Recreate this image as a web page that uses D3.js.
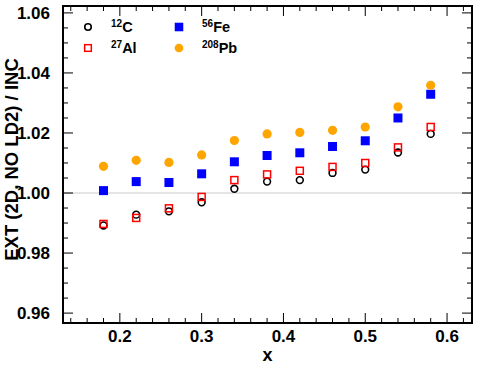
<!DOCTYPE html>
<html>
<head>
<meta charset="utf-8">
<script src="https://cdn.jsdelivr.net/npm/d3@7"></script>
<style>
  body { margin: 0; background: #fff; }
  text { font-family: "Liberation Sans", Arial, sans-serif; font-weight: bold; }
</style>
</head>
<body>
<div id="chart"></div>
<script>
// x bins
const xVals = [0.18, 0.22, 0.26, 0.30, 0.34, 0.38, 0.42, 0.46, 0.50, 0.54, 0.58];
// ratios per nucleus
const c12  = [0.9892, 0.9928, 0.9939, 0.9969, 1.0014, 1.0038, 1.0043, 1.0067, 1.0078, 1.0135, 1.0197];
const al27 = [0.9897, 0.9917, 0.9949, 0.9987, 1.0043, 1.0062, 1.0074, 1.0087, 1.0100, 1.0152, 1.0220];
const fe56 = [1.0008, 1.0038, 1.0035, 1.0064, 1.0104, 1.0125, 1.0134, 1.0155, 1.0174, 1.0250, 1.0329];
const pb208 = [1.0089, 1.0109, 1.0102, 1.0127, 1.0175, 1.0197, 1.0202, 1.0209, 1.0220, 1.0287, 1.0359];

const xTicks = [0.2, 0.3, 0.4, 0.5, 0.6];
const yTicks = [0.96, 0.98, 1.00, 1.02, 1.04, 1.06];

const W = 479, H = 371;
const margin = { top: 6, right: 7, bottom: 48, left: 63 };
const w = W - margin.left - margin.right;
const h = H - margin.top - margin.bottom;

const x = d3.scaleLinear().domain([0.1305, 0.6305]).range([0, w]);
const y = d3.scaleLinear().domain([0.9567, 1.0623]).range([h, 0]);

const svg = d3.select("#chart").append("svg")
    .attr("width", W)
    .attr("height", H);
const g = svg.append("g")
    .attr("transform", `translate(${margin.left},${margin.top})`);

// reference line at 1
g.append("line")
    .attr("x1", 0).attr("x2", w)
    .attr("y1", y(1)).attr("y2", y(1))
    .attr("stroke", "#dcdcdc")
    .attr("stroke-width", 1.5);

// ticks on all four sides, pointing in
const xMinor = d3.range(0.14, 0.625, 0.02);
const yMinor = d3.range(0.96, 1.0626, 0.005);
const tickG = g.append("g").attr("stroke", "#000").attr("stroke-width", 1);
xMinor.forEach(v => {
  const major = xTicks.some(t => Math.abs(t - v) < 1e-6);
  const len = major ? 10 : 5;
  tickG.append("line").attr("x1", x(v)).attr("x2", x(v)).attr("y1", h).attr("y2", h - len);
  tickG.append("line").attr("x1", x(v)).attr("x2", x(v)).attr("y1", 0).attr("y2", len);
});
yMinor.forEach(v => {
  const major = yTicks.some(t => Math.abs(t - v) < 1e-6);
  const len = major ? 10 : 5;
  tickG.append("line").attr("y1", y(v)).attr("y2", y(v)).attr("x1", 0).attr("x2", len);
  tickG.append("line").attr("y1", y(v)).attr("y2", y(v)).attr("x1", w).attr("x2", w - len);
});

// tick labels
g.selectAll(".xl").data(xTicks).enter().append("text")
    .attr("x", d => x(d))
    .attr("y", h + 19)
    .attr("text-anchor", "middle")
    .style("font-size", "17px")
    .text(d => d3.format(".1f")(d));
g.selectAll(".yl").data(yTicks).enter().append("text")
    .attr("x", -13)
    .attr("y", d => y(d))
    .attr("dy", "0.36em")
    .attr("text-anchor", "end")
    .style("font-size", "17px")
    .text(d => d3.format(".2f")(d));

// axis titles
g.append("text")
    .attr("x", w / 2)
    .attr("y", h + 38)
    .attr("text-anchor", "middle")
    .style("font-size", "18px")
    .text("x");
svg.append("text")
    .attr("transform", `translate(17.5,${margin.top + h / 2 - 5}) rotate(-90)`)
    .attr("text-anchor", "middle")
    .style("font-size", "18.5px")
    .text("EXT (2D, NO LD2) / INC");

// markers
function drawSeries(vals, kind) {
  const pts = vals.map((v, i) => [x(xVals[i]), y(v)]);
  pts.forEach(p => marker(g, p[0], p[1], kind));
}
function marker(sel, cx, cy, kind, scale) {
  const s = scale || 1;
  if (kind === "c") {
    sel.append("circle").attr("cx", cx).attr("cy", cy).attr("r", 3.4 * s)
      .attr("fill", "none").attr("stroke", "#000").attr("stroke-width", 1.6);
  } else if (kind === "al") {
    const a = 7 * s;
    sel.append("rect").attr("x", cx - a / 2).attr("y", cy - a / 2).attr("width", a).attr("height", a)
      .attr("fill", "none").attr("stroke", "#ff0000").attr("stroke-width", 1.5);
  } else if (kind === "fe") {
    const a = 9 * s;
    sel.append("rect").attr("x", cx - a / 2).attr("y", cy - a / 2).attr("width", a).attr("height", a)
      .attr("fill", "#0000ff");
  } else {
    sel.append("circle").attr("cx", cx).attr("cy", cy).attr("r", 4.6 * s)
      .attr("fill", "#ffa500");
  }
}
drawSeries(c12, "c");
drawSeries(al27, "al");
drawSeries(fe56, "fe");
drawSeries(pb208, "pb");

// legend
const legend = [
  { kind: "c", sup: "12", name: "C", lx: 88, ly: 27 },
  { kind: "fe", sup: "56", name: "Fe", lx: 179, ly: 27 },
  { kind: "al", sup: "27", name: "Al", lx: 88, ly: 48 },
  { kind: "pb", sup: "208", name: "Pb", lx: 179, ly: 48 }
];
legend.forEach(d => {
  marker(svg, d.lx, d.ly, d.kind, 0.95);
  const t = svg.append("text")
      .attr("x", d.lx + 23)
      .attr("y", d.ly + 5)
      .style("font-size", "14.5px");
  t.append("tspan").attr("dy", -5).style("font-size", "10px").text(d.sup);
  t.append("tspan").attr("dy", 5).text(d.name);
});

// frame
g.append("rect")
    .attr("width", w).attr("height", h)
    .attr("fill", "none")
    .attr("stroke", "#000")
    .attr("stroke-width", 2);
</script>
</body>
</html>
